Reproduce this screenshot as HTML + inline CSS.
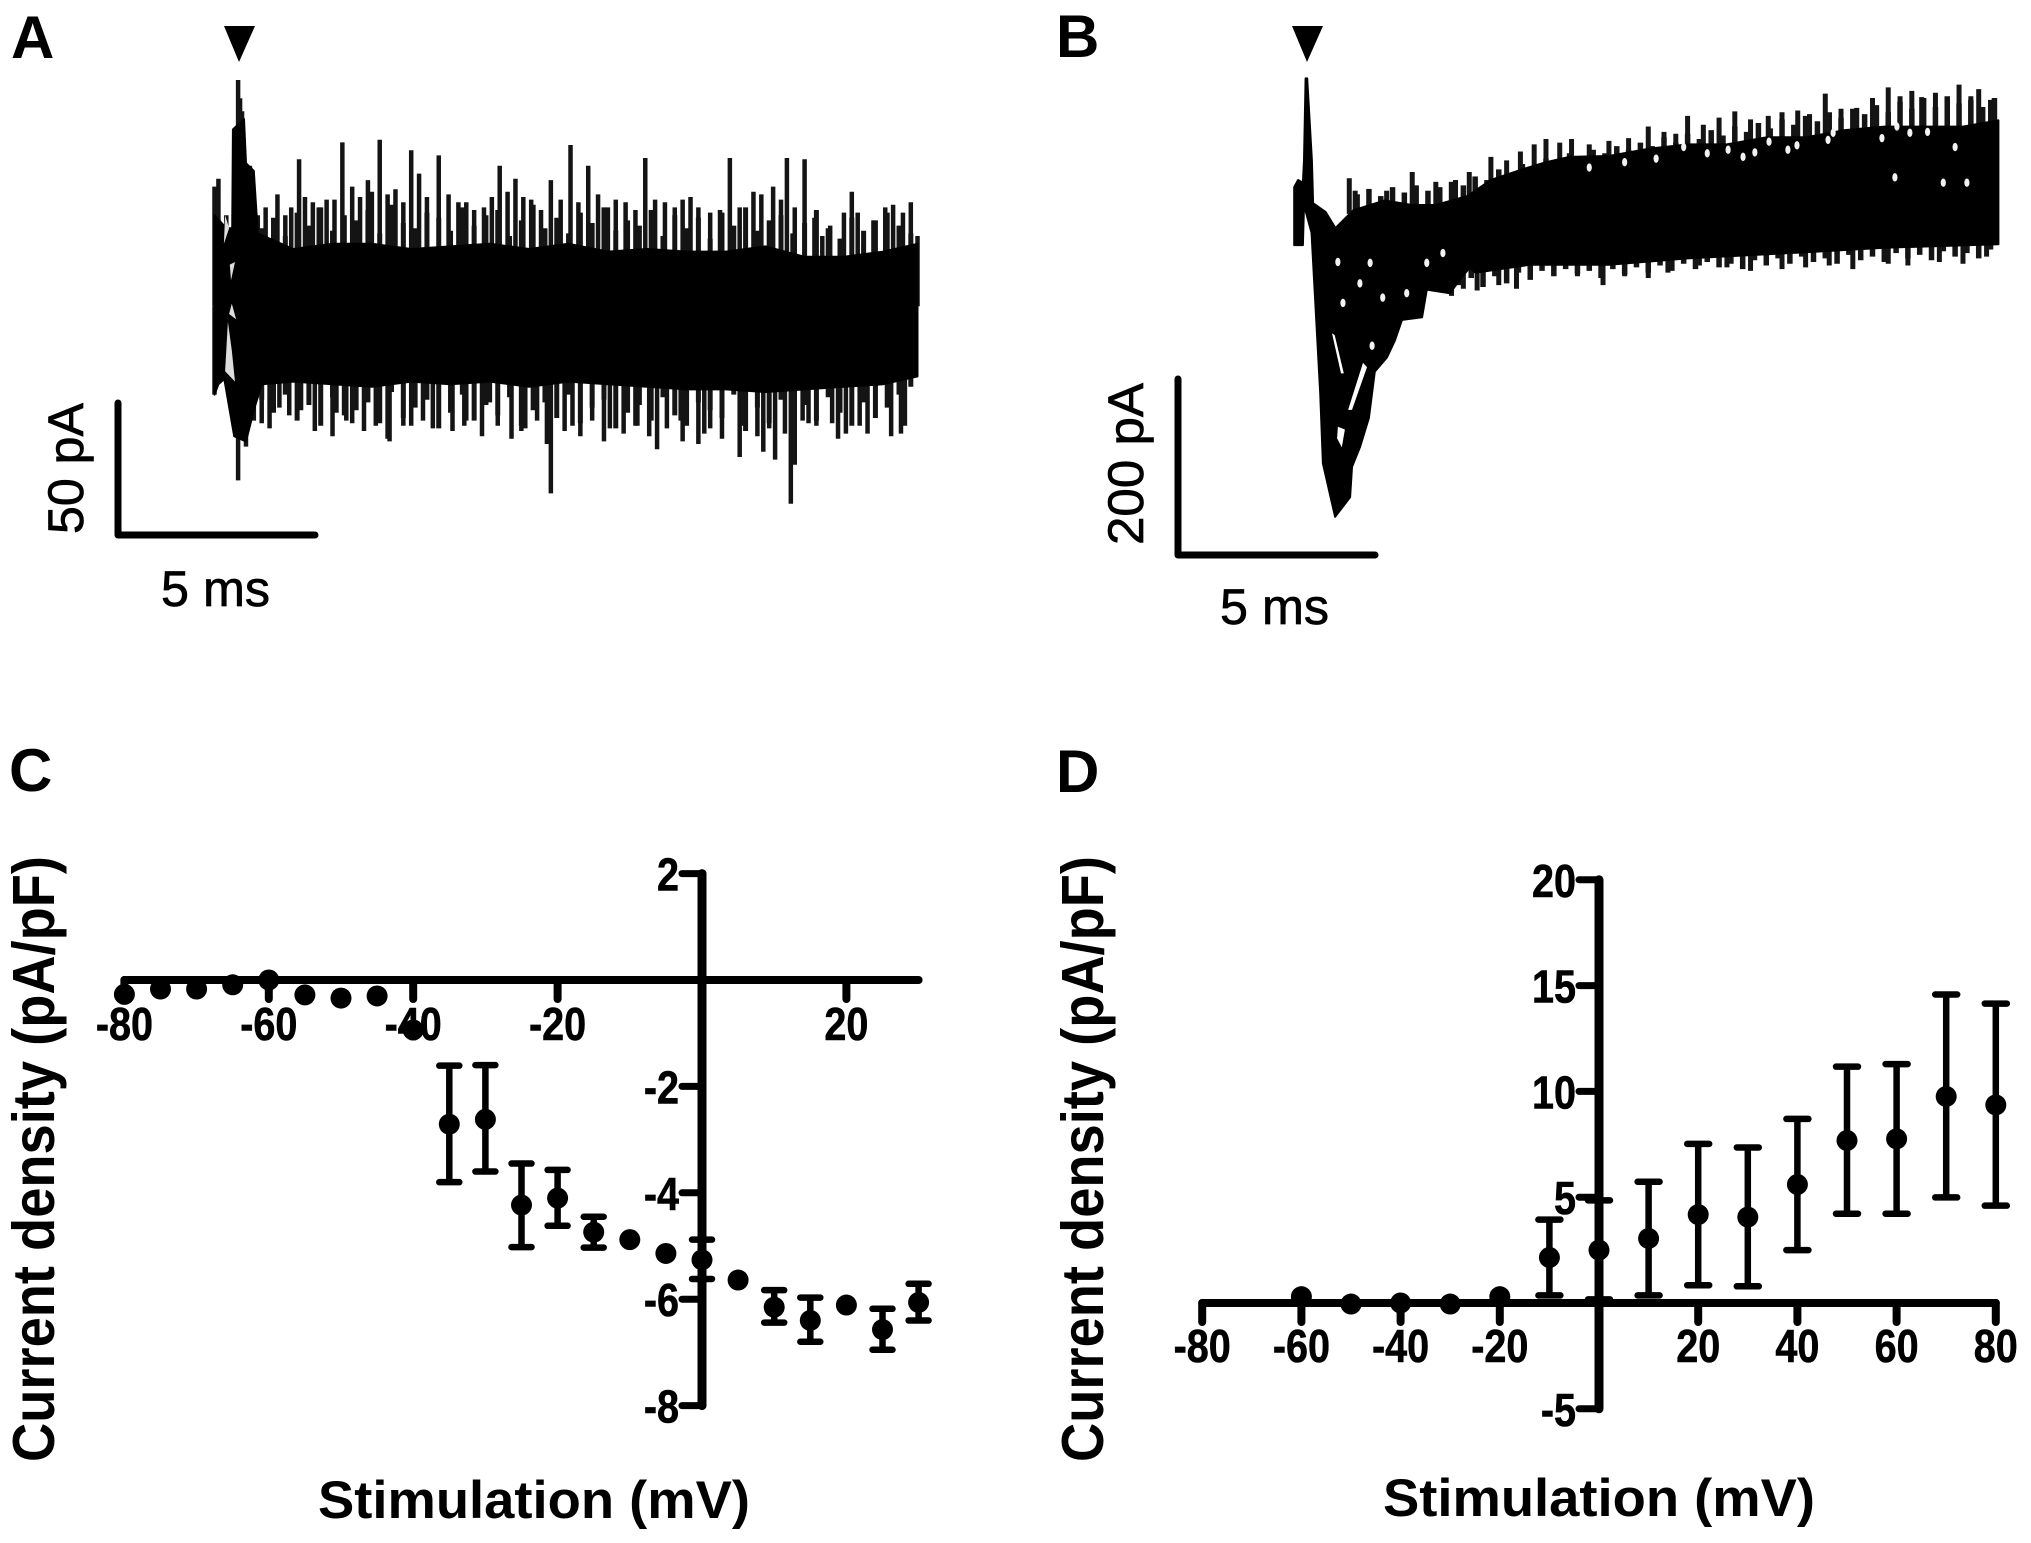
<!DOCTYPE html>
<html lang="en">
<head>
<meta charset="utf-8">
<title>Current traces and current density plots</title>
<style>
html,body{margin:0;padding:0;background:#fff;}
svg{display:block;}
text{font-family:"Liberation Sans",Arial,sans-serif;fill:#000;}
.letter{font-weight:700;font-size:60px;}
.title{font-weight:700;}
.tick{font-weight:700;font-size:46px;stroke:#000;stroke-width:.6px;}
.bar-label{font-size:50px;stroke:#000;stroke-width:.7px;}
</style>
</head>
<body>
<svg id="figure" xmlns="http://www.w3.org/2000/svg" width="2031" height="1543" viewBox="0 0 2031 1543">
  <rect x="0" y="0" width="2031" height="1543" fill="#fff"/>

  <g id="panelA">
    <text class="letter" x="11" y="58">A</text>
    <polygon points="224,26 255,26 239,62" fill="#000"/>
    <g id="traceA"></g>
    <path d="M118,403 V535 H315" fill="none" stroke="#000" stroke-width="7" stroke-linecap="round" stroke-linejoin="round"/>
    <text class="bar-label" transform="translate(83,534) rotate(-90)" textLength="131" lengthAdjust="spacingAndGlyphs">50 pA</text>
    <text class="bar-label" x="161" y="606" textLength="109" lengthAdjust="spacingAndGlyphs">5 ms</text>
  </g>

  <g id="panelB">
    <text class="letter" x="1056" y="57">B</text>
    <polygon points="1292,26 1323,26 1307,62" fill="#000"/>
    <g id="traceB"></g>
    <path d="M1178,379 V555 H1375" fill="none" stroke="#000" stroke-width="7" stroke-linecap="round" stroke-linejoin="round"/>
    <text class="bar-label" transform="translate(1143,545) rotate(-90)" textLength="162" lengthAdjust="spacingAndGlyphs">200 pA</text>
    <text class="bar-label" x="1220" y="624" textLength="109" lengthAdjust="spacingAndGlyphs">5 ms</text>
  </g>

  <g id="panelC">
    <text class="letter" x="9" y="791">C</text>
    <g id="chartC"></g>
    <text class="title" transform="translate(54,1462) rotate(-90)" style="font-size:59px" textLength="606" lengthAdjust="spacingAndGlyphs">Current density (pA/pF)</text>
    <text class="title" x="318" y="1518" style="font-size:53px" textLength="432" lengthAdjust="spacingAndGlyphs">Stimulation (mV)</text>
  </g>

  <g id="panelD">
    <text class="letter" x="1056" y="792">D</text>
    <g id="chartD"></g>
    <text class="title" transform="translate(1103,1462) rotate(-90)" style="font-size:59px" textLength="606" lengthAdjust="spacingAndGlyphs">Current density (pA/pF)</text>
    <text class="title" x="1383" y="1516" style="font-size:53px" textLength="432" lengthAdjust="spacingAndGlyphs">Stimulation (mV)</text>
  </g>
</svg>

<script>
/* ---------- Panel A: envelope (ms, pA) ---------- */
var traceATopTimes     = [0,0.3,0.45,0.47,0.75,0.8,1,1.1,2,3,4,5,6,7,8,9,10,11,12,13,14,15,16,17,17.87];
var traceATopValues    = [35,30,30,68,72,55,52,28,22,24,24,22,23,24,22,24,21,22,21,21,23,19,19,21,24];
var traceABottomTimes  = [0,0.1,0.25,0.5,0.8,1,1.2,2,3,4,5,6,7,8,9,10,11,12,13,14,15,16,17,17.87];
var traceABottomValues = [-34,-30,-28,-50,-52,-40,-30,-29,-30,-31,-29,-30,-29,-31,-29,-30,-31,-32,-32,-33,-32,-31,-30,-27];
var traceAPeakTimes  = [0,0.1,0.3,0.5,0.55,0.6,0.65,0.7,0.9,1.1,1.6,1.8,2.15,2.5,2.85,3.25,3.5,3.9,4.2,4.6,5,5.2,5.7,6.2,6.6,7.25,7.65,8.05,8.55,9.05,9.5,10.2,10.95,11.45,12.1,12.6,13.1,13.7,14.2,14.55,15,15.45,16.2,16.5,17.05,17.7,17.87];
var traceAPeakValues = [46,49,35,68,60,87,80,75,54,35,43,35,56.5,40,41,63,46,48.5,64,45,60,51,58,40,37,54,49,41,48.5,62,54,41,57,40,42,36,57,44,46,57,56.5,27,44,24,38,40,27];
var traceASmallUpTimes  = [0.9,1.3,1.95,2.3,2.65,3.05,3.7,4,4.4,4.8,5.4,5.95,6.4,6.85,7.05,7.45,7.85,8.3,8.8,9.25,9.75,10,10.45,10.7,11.2,11.7,11.9,12.3,12.85,13.35,13.9,14.4,14.75,15.25,15.65,16,16.35,16.75,17.25,17.5];
var traceASmallUpValues = [44,38,38,42,38,41,42,44,43,40,42,43,40,38,42,44,42,37,41,40,43,38,40,37,41,38,41,38,37,38,43,41,38,34,31,36,36,33,39,36];
var traceADipTimes  = [0,0.6,0.8,1.2,1.65,2.55,3.1,3.5,4.4,5,5.7,6.35,7,7.8,8.45,8.55,9.1,9.9,10.7,11.25,11.9,12.45,13.35,13.95,14.25,14.65,14.75,15.1,15.85,16.6,17.45];
var traceADipValues = [-34,-67,-54,-45,-39,-48,-41,-45,-51,-46,-43,-46,-37,-48,-53,-72,-46,-52,-46,-55,-52,-49,-58,-56,-59,-76,-61,-45,-51,-49,-49];
var traceASmallDownTimes  = [1,1.4,1.9,2.2,2.7,3,3.35,3.8,4.1,4.45,4.8,5.3,5.55,6.05,6.4,6.8,7.2,7.55,7.9,8.2,8.9,9.3,9.6,10.05,10.4,10.75,11.05,11.5,11.85,12.3,12.6,12.9,13.45,13.8,14.1,14.5,14.95,15.3,15.7,16.05,16.4,16.8,17.2,17.55];
var traceASmallDownValues = [-44,-47,-42,-40,-45,-50,-44,-48,-46,-52,-46,-44,-47,-48,-44,-50,-46,-51,-47,-44,-48,-50,-44,-47,-49,-46,-50,-47,-44,-53,-47,-51,-46,-50,-47,-49,-44,-46,-45,-49,-46,-43,-50,-46];
var traceAFuzzUpValues   = [30,34,27,36,31,38,29,35,33,37,28,39,32,30,36,34,29,38,31,35,37,27,33,39,30,34,28,36,32,38,29,33,31,37,27,35,30,34,26,36,31,38,29,33,35,28,32,37,30,26,34,29,33,36,31,28];
var traceAFuzzDownValues = [-36,-41,-34,-44,-38,-46,-35,-42,-40,-37,-45,-33,-43,-39,-36,-47,-41,-34,-44,-38,-42,-35,-46,-40,-37,-43,-34,-45,-39,-36,-47,-41,-38,-44,-35,-42,-46,-37,-40,-43,-34,-48,-39,-45,-36,-42,-38,-44,-35,-41,-46,-37,-43,-39,-34,-31];
var traceAGapTimes  = [[0.34,0.44,0.52,0.27],[0.44,0.55,0.37],[0.27,0.37,0.24],[0.39,0.52,0.42]];
var traceAGapValues = [[-6,-17,-29,-25],[1,-5,-3],[35,30,24],[16,17,10]];

/* ---------- Panel B: envelope (ms, pA) ---------- */
var traceBTopTimes  = [0,0.1,0.22,0.25,0.29,0.33,0.45,0.48,0.8,1.05,1.5,2.3,3,3.6,4.4,5,5.8,6.4,7,8,9,10,11,12,13,14,15,16,17,17.9];
var traceBTopValues = [50,58,55,80,172,172,80,32,22,4,24,35,30,30,40,58,70,78,84,85,93,98,98,106,106,114,118,118,118,125];
var traceBBottomTimes  = [0,0.22,0.25,0.44,0.66,0.73,1.04,1.42,1.47,1.67,1.9,2.05,2.36,2.56,2.74,3.25,3.37,3.96,4.21,4.47,4.6,6,8,10,13,15,17.9];
var traceBBottomValues = [-15,-15,30,-1,-181,-260,-320,-298,-264,-242,-209,-157,-141,-122,-99,-96,-65,-69,-54,-40,-46,-37,-37,-30,-23,-18,-14];
var traceBPeakTimes  = [1.4,1.55,2.35,3,3.6,4.1,4.45,5,5.4,5.75,6.1,6.4,6.75,7.05,7.5,8,8.5,9,9.4,9.7,10,10.4,10.8,11.2,11.6,12.05,12.4,12.8,13.1,13.5,13.9,14.3,14.7,15.1,15.4,15.7,15.95,16.3,16.6,16.9,17.2,17.4,17.7];
var traceBPeakValues = [60,46,46,67,56,58,67,84,80,90,98,104,100,104,98,102,105,118,112,110,130,120,128,135,126,130,134,136,132,155,138,139,150,162,152,158,151,156,150,165,152,160,148];
var traceBDipTimes  = [4,4.3,4.65,5.2,5.65,6,6.6,7.2,7.85,8.4,9,9.5,10.3,11,11.6,12.4,13,13.6,14.2,15.1,15.6,16.4,17,17.6];
var traceBDipValues = [-72,-64,-66,-60,-64,-50,-48,-50,-60,-50,-52,-46,-38,-40,-44,-42,-40,-38,-42,-36,-38,-34,-36,-28];
var traceBFuzzUpValues   = [42,48,40,50,44,52,46,50,56,52,62,58,70,66,76,72,82,78,88,84,92,88,96,92,100,96,106,100,110,104,114,108,118,112,122,116,126,120,130,124,134,128,138,132,142,134,146,138,150,140,152,144,148,140,150];
var traceBFuzzDownValues = [-60,-52,-62,-50,-58,-46,-54,-44,-50,-42,-48,-44,-52,-42,-48,-40,-46,-38,-44,-36,-42,-34,-40,-36,-42,-32,-38,-30,-36,-28,-34,-30,-36,-26,-32,-28,-34,-24,-30,-26,-32,-22,-28,-24,-30,-20];
var traceBGapTimes  = [[0.96,1.03,1.26,1.19],[1.75,1.37,1.47,1.85],[1.11,1.29,1.21,1.09]];
var traceBGapValues = [[-114,-116,-159,-159],[-147,-200,-200,-152],[-219,-222,-242,-232]];
var traceBSpeckTimes  = [1.11,1.67,1.24,1.93,2.25,2.86,1.98,3.37,3.78,7.5,8.4,9.2,9.9,10.5,11.03,11.41,11.71,12.07,12.78,12.55,13.57,13.7,15.32,15.65,16.1,16.8,17.1,16.5,15.27,14.94];
var traceBSpeckValues = [-34,-58,-80,-35,-74,-69,-128,-35,-24,72,78,82,95,88,92,84,89,101,97,92,103,111,118,111,112,95,55,55,61,105];

/* ---------- Panel C: current density vs stimulation ---------- */
var stimulationC = [-80,-75,-70,-65,-60,-55,-50,-45,-40,-35,-30,-25,-20,-15,-10,-5,0,5,10,15,20,25,30];
var densityC     = [-0.27,-0.17,-0.17,-0.09,0,-0.28,-0.34,-0.3,-0.94,-2.71,-2.62,-4.23,-4.1,-4.74,-4.88,-5.14,-5.26,-5.64,-6.15,-6.4,-6.11,-6.57,-6.06];
var errorTopC    = [null,null,null,null,null,null,null,null,null,-1.61,-1.6,-3.45,-3.57,-4.45,null,null,-4.88,null,-5.83,-5.97,null,-6.18,-5.71];
var errorBottomC = [null,null,null,null,null,null,null,null,null,-3.8,-3.6,-5.02,-4.62,-5.03,null,null,-5.62,null,-6.44,-6.8,null,-6.95,-6.4];
var xTicksC = [-80,-60,-40,-20,20];
var yTicksC = [2,-2,-4,-6,-8];

/* ---------- Panel D: current density vs stimulation ---------- */
var stimulationD = [-60,-50,-40,-30,-20,-10,0,10,20,30,40,50,60,70,80];
var densityD     = [0.3,-0.05,0,-0.05,0.3,2.15,2.5,3.05,4.18,4.06,5.6,7.68,7.76,9.76,9.36];
var errorTopD    = [null,null,null,null,null,3.94,4.85,5.73,7.52,7.35,8.7,11.17,11.29,14.58,14.15];
var errorBottomD = [null,null,null,null,null,0.36,0.17,0.36,0.84,0.79,2.5,4.22,4.22,4.99,4.6];
var xTicksD = [-80,-60,-40,-20,20,40,60,80];
var yTicksD = [20,15,10,5,-5];

var NS = 'http://www.w3.org/2000/svg';
function mk(parent, tag, attrs) {
  var el = document.createElementNS(NS, tag);
  for (var k in attrs) { el.setAttribute(k, attrs[k]); }
  parent.appendChild(el);
  return el;
}

/* ---------- axis functions ---------- */
function xA(t) { return 214.5 + 39.34 * t; }
function yA(i) { return 306.2 - 2.6 * i; }
function xB(t) { return 1294.2 + 39.34 * t; }
function yB(i) { return 231.7 - 0.891 * i; }
function xC(v) { return 702 + 7.22 * v; }
function yC(v) { return 980 - 53.2 * v; }
function xD(v) { return 1599 + 4.96 * v; }
function yD(v) { return 1303 - 21.16 * v; }

function spikes(parent, times, values, xf, yf, width, base, name) {
  for (var n = 0; n < times.length; n++) {
    var ln = mk(parent, 'line', {x1: xf(times[n]), x2: xf(times[n]), y1: yf(base), y2: yf(values[n]), stroke: '#141414', 'stroke-width': width});
    
    
  }
}

function sampleTimes(start, step, values) {
  var out = [];
  for (var n = 0; n < values.length; n++) { out.push(start + n * step); }
  return out;
}

function band(parent, topT, topV, botT, botV, xf, yf, name) {
  var pts = [];
  for (var a = 0; a < topT.length; a++) { pts.push(xf(topT[a]).toFixed(1) + ',' + yf(topV[a]).toFixed(1)); }
  for (var b = botT.length - 1; b >= 0; b--) { pts.push(xf(botT[b]).toFixed(1) + ',' + yf(botV[b]).toFixed(1)); }
  var poly = mk(parent, 'polygon', {points: pts.join(' '), fill: '#000', stroke: '#000', 'stroke-width': 2, 'stroke-linejoin': 'round'});
  
  
}

function gaps(parent, allT, allV, xf, yf, fill, name) {
  for (var g = 0; g < allT.length; g++) {
    var pts = [];
    for (var p = 0; p < allT[g].length; p++) {
      pts.push(xf(allT[g][p]).toFixed(1) + ',' + yf(allV[g][p]).toFixed(1));
    }
    var poly = mk(parent, 'polygon', {points: pts.join(' '), fill: fill});
    
    
  }
}

/* ---------- Panel A ---------- */
var gA = document.getElementById('traceA');
spikes(gA, traceAPeakTimes, traceAPeakValues, xA, yA, 4.5, 0, 'trace-a-upward-spike');
spikes(gA, traceASmallUpTimes, traceASmallUpValues, xA, yA, 4.5, 0, 'trace-a-small-upward-spike');
spikes(gA, sampleTimes(1.2, 0.3, traceAFuzzUpValues), traceAFuzzUpValues, xA, yA, 5, 0, 'trace-a-noise-up');
spikes(gA, traceADipTimes, traceADipValues, xA, yA, 4.5, 0, 'trace-a-downward-spike');
spikes(gA, traceASmallDownTimes, traceASmallDownValues, xA, yA, 4.5, 0, 'trace-a-small-downward-spike');
spikes(gA, sampleTimes(1.2, 0.3, traceAFuzzDownValues), traceAFuzzDownValues, xA, yA, 5, 0, 'trace-a-noise-down');
band(gA, traceATopTimes, traceATopValues, traceABottomTimes, traceABottomValues, xA, yA, 'trace-a-noise-band');
gaps(gA, traceAGapTimes, traceAGapValues, xA, yA, '#ddd', 'trace-a-gap-between-sweeps');

/* ---------- Panel B ---------- */
var gB = document.getElementById('traceB');
spikes(gB, traceBPeakTimes, traceBPeakValues, xB, yB, 5, 20, 'trace-b-upward-spike');
spikes(gB, sampleTimes(1.6, 0.3, traceBFuzzUpValues), traceBFuzzUpValues, xB, yB, 5.5, 20, 'trace-b-noise-up');
spikes(gB, traceBDipTimes, traceBDipValues, xB, yB, 5, 20, 'trace-b-downward-spike');
spikes(gB, sampleTimes(4.2, 0.3, traceBFuzzDownValues), traceBFuzzDownValues, xB, yB, 5.5, 20, 'trace-b-noise-down');
band(gB, traceBTopTimes, traceBTopValues, traceBBottomTimes, traceBBottomValues, xB, yB, 'trace-b-current-band');
gaps(gB, traceBGapTimes, traceBGapValues, xB, yB, '#fff', 'trace-b-gap-between-sweeps');
for (var s = 0; s < traceBSpeckTimes.length; s++) {
  var speck = mk(gB, 'ellipse', {cx: xB(traceBSpeckTimes[s]), cy: yB(traceBSpeckValues[s]), rx: 2.6, ry: 4.2, fill: '#f2f2f2'});
  
  
}

/* ---------- IV plots ---------- */
function ivPlot(parent, cfg) {
  var xf = cfg.xf, yf = cfg.yf, n;
  var axes = mk(parent, 'g', {stroke: '#000', 'stroke-width': 8, 'stroke-linecap': 'round', fill: 'none'});
  
  

  var xAxis = mk(axes, 'line', {x1: xf(cfg.xMin), x2: xf(cfg.xMax), y1: yf(0), y2: yf(0)});
  
  

  var yAxis = mk(axes, 'line', {x1: xf(0), x2: xf(0), y1: yf(cfg.yMax), y2: yf(cfg.yMin), 'stroke-width': 9});
  
  

  for (n = 0; n < cfg.xTicks.length; n++) {
    var xv = cfg.xTicks[n];
    var xt = mk(axes, 'line', {x1: xf(xv), x2: xf(xv), y1: yf(0), y2: yf(0) + 19});
    
    
    var xl = mk(parent, 'text', {'class': 'tick', 'text-anchor': 'middle', transform: 'translate(' + xf(xv) + ',' + cfg.xLabelY + ') scale(.86,1)'});
    xl.textContent = String(xv);
    
    
  }
  for (n = 0; n < cfg.yTicks.length; n++) {
    var yv = cfg.yTicks[n];
    var yt = mk(axes, 'line', {x1: xf(0) - 20, x2: xf(0), y1: yf(yv), y2: yf(yv), 'stroke-width': 7});
    
    
    var yl = mk(parent, 'text', {'class': 'tick', 'text-anchor': 'end', transform: 'translate(' + (xf(0) - 23) + ',' + (yf(yv) + 17) + ') scale(.86,1)'});
    yl.textContent = String(yv);
    
    
  }
  for (n = 0; n < cfg.xs.length; n++) {
    var cx = xf(cfg.xs[n]);
    if (cfg.top[n] !== null) {
      var eb = mk(parent, 'path', {
        d: 'M' + (cx - cfg.cap) + ',' + yf(cfg.top[n]) + 'H' + (cx + cfg.cap) +
           'M' + cx + ',' + yf(cfg.top[n]) + 'V' + yf(cfg.bottom[n]) +
           'M' + (cx - cfg.cap) + ',' + yf(cfg.bottom[n]) + 'H' + (cx + cfg.cap),
        fill: 'none', stroke: '#000', 'stroke-width': 6.5, 'stroke-linecap': 'round'
      });
      
      
    }
    var dot = mk(parent, 'circle', {cx: cx, cy: yf(cfg.ys[n]), r: 10.5, fill: '#000'});
    
    
  }
}

ivPlot(document.getElementById('chartC'), {
  prefix: 'panel-c', xf: xC, yf: yC, xMin: -80, xMax: 30, yMin: -8, yMax: 2,
  xTicks: xTicksC, yTicks: yTicksC, xLabelY: 1040, cap: 10,
  xs: stimulationC, ys: densityC, top: errorTopC, bottom: errorBottomC
});
ivPlot(document.getElementById('chartD'), {
  prefix: 'panel-d', xf: xD, yf: yD, xMin: -80, xMax: 80, yMin: -5, yMax: 20,
  xTicks: xTicksD, yTicks: yTicksD, xLabelY: 1362, cap: 11,
  xs: stimulationD, ys: densityD, top: errorTopD, bottom: errorBottomD
});
</script>
</body>
</html>
